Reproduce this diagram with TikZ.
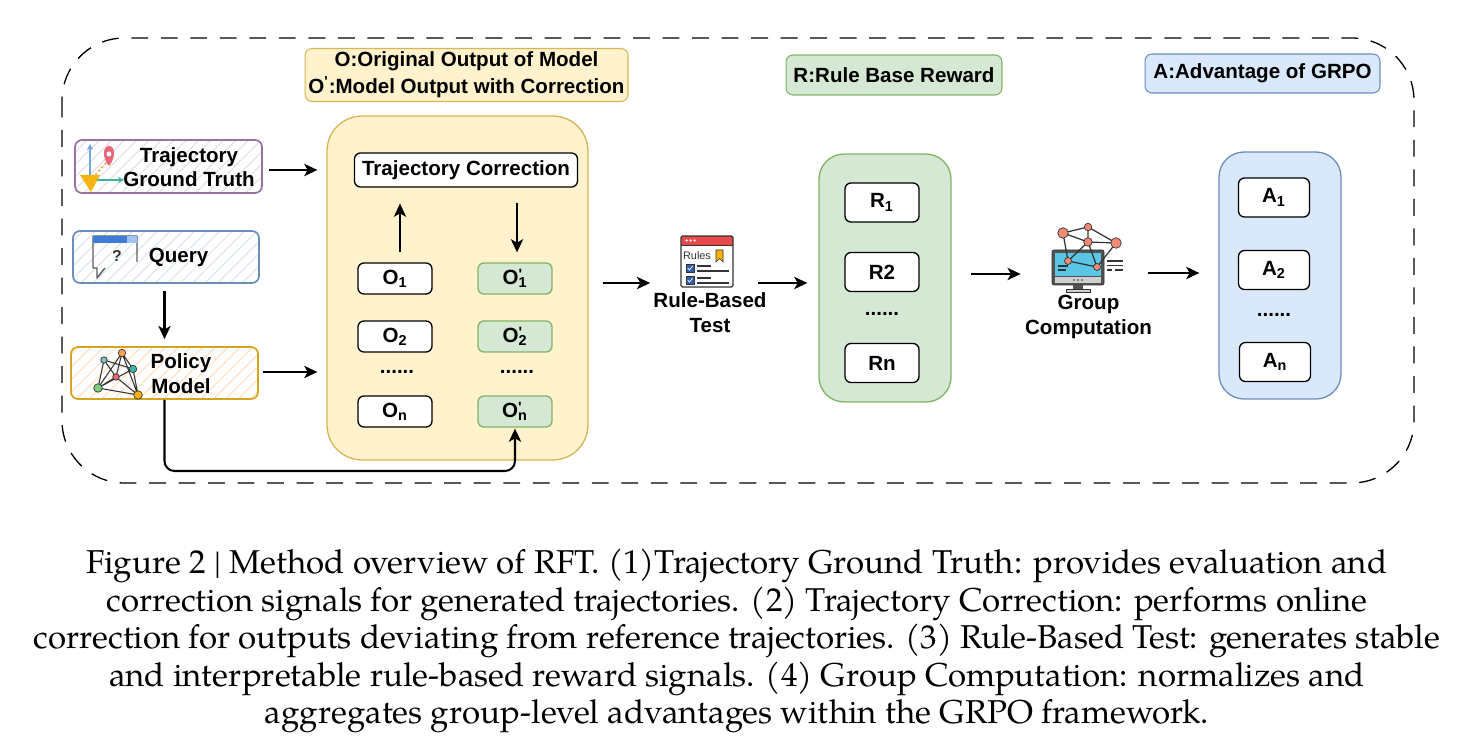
\documentclass[tikz,border=0pt]{standalone}
\usepackage{fontspec}
\newfontfamily\dgf{Liberation Sans}
\newfontfamily\capf{TeX Gyre Pagella}
\usetikzlibrary{arrows.meta,patterns.meta}
\definecolor{yfill}{HTML}{FFF2CC}
\definecolor{ydraw}{HTML}{D6B656}
\definecolor{gfill}{HTML}{D5E8D4}
\definecolor{gdraw}{HTML}{82B366}
\definecolor{bfill}{HTML}{DAE8FC}
\definecolor{bdraw}{HTML}{6C8EBF}
\definecolor{pdraw}{HTML}{9673A6}
\definecolor{qdraw}{HTML}{6C8EBF}
\definecolor{poldraw}{HTML}{D6A520}
\definecolor{icdark}{HTML}{333333}
\definecolor{trblue}{HTML}{6FA8DC}
\definecolor{trteal}{HTML}{3DB5A5}
\definecolor{tryel}{HTML}{F6B40E}
\definecolor{pinred}{HTML}{E8677A}
\definecolor{tror}{HTML}{F0B060}
\definecolor{qblue}{HTML}{3D7DD8}
\definecolor{qlight}{HTML}{9FC5F8}
\definecolor{rulered}{HTML}{E84A4A}
\definecolor{rulegold}{HTML}{F4B400}
\definecolor{chkblue}{HTML}{2F5DAF}
\definecolor{scrblue}{HTML}{5BC5E5}
\definecolor{netred}{HTML}{F28B74}
\definecolor{bezel}{HTML}{CFCFCF}
\newcommand\primed[2]{#1\rlap{\raisebox{2.4pt}{\fontsize{8.5}{8.5}\selectfont\textquotesingle}}\textsubscript{#2}}
\tikzset{
  lbl/.style={font=\dgf\bfseries\fontsize{11.7}{14.4}\selectfont, align=center, inner sep=0pt},
  wbox/.style={lbl, draw=black, fill=white, rounded corners=0.12cm, line width=0.75pt,
    minimum width=1.48cm, minimum height=0.62cm},
  gbox/.style={wbox, draw=gdraw, fill=gfill},
  rbox/.style={wbox, minimum width=1.48cm, minimum height=0.78cm},
  legend/.style={lbl, rounded corners=0.14cm, line width=0.6pt},
  inbox/.style={rounded corners=0.14cm, line width=1pt, inner sep=0pt},
  container/.style={rounded corners=0.7cm, line width=0.75pt, inner sep=0pt},
  arr/.style={line width=1.15pt, -{Stealth[length=7.5pt,width=7pt,inset=2pt]}},
  outer/.style={line width=0.75pt, dash pattern=on 9.6pt off 7.2pt, rounded corners=1.25cm},
  hatch/.style={pattern={Lines[angle=45,distance=5pt,line width=0.6pt]}, pattern color=#1},
  netnode/.style={circle, draw=icdark, line width=0.4pt, inner sep=0pt, minimum size=#1},
}
\begin{document}
\begin{tikzpicture}[x=0.02cm,y=-0.02cm]
\useasboundingbox (0,0) rectangle (1475,749);

% outer dashed frame
\draw[outer] (62,38) rectangle (1414,483);

% legends
\node[legend, draw=ydraw, fill=yfill, minimum width=6.46cm, minimum height=1.06cm,
  font=\dgf\bfseries\fontsize{11.7}{15.3}\selectfont] (legO) at (466.5,75)
  {O:Original Output of Model\\O\textsuperscript{\textquotesingle}:Model Output with Correction};
\node[legend, draw=gdraw, fill=gfill, minimum width=4.32cm, minimum height=0.8cm] (legR) at (894,75) {R:Rule Base Reward};
\node[legend, draw=bdraw, fill=bfill, minimum width=4.7cm, minimum height=0.78cm] (legA) at (1262.5,73.5) {A:Advantage of GRPO};

% left column boxes
\node[inbox, draw=pdraw, hatch=pdraw!25, minimum width=3.74cm, minimum height=1.06cm] (tgt) at (168.5,166.5) {};
\node[inbox, draw=qdraw, hatch=qdraw!25, minimum width=3.72cm, minimum height=1.04cm] (qry) at (166,257) {};
\node[inbox, draw=poldraw, hatch=orange!25, minimum width=3.74cm, minimum height=1.04cm] (pol) at (164.5,373) {};
\node[lbl, font=\dgf\bfseries\fontsize{11.7}{13.8}\selectfont] (tgtt) at (189,167) {Trajectory\\Ground Truth};
\node[lbl] (qryt) at (178.5,257) {Query};
\node[lbl] (polt) at (181,374) {Policy\\Model};

% trajectory icon
\draw[trblue, line width=0.9pt, -{Stealth[length=3.5pt,width=3.5pt]}] (90,190) -- (90,144);
\draw[trteal, line width=0.9pt, -{Stealth[length=3.5pt,width=3.5pt]}] (86,180) -- (124,180);
\draw[tror, line width=0.9pt, dash pattern=on 1.5pt off 1.2pt] (95,175) -- (107,162);
\fill[tryel] (80,175) -- (100,175) -- (91,192) -- cycle;
\fill[pinred] (109,166) .. controls (102,158) and (102.5,146) .. (109,146) .. controls (115.5,146) and (116,158) .. (109,166) -- cycle;
\fill[white] (109,154) circle (0.05cm);

% query icon
\draw[icdark!80, line width=0.8pt, line join=round] (105,268) -- (97,278) -- (97,268) -- (93,268) -- (93,236) -- (137,236) -- (137,262);
\fill[qblue] (93,236) rectangle (127,243);
\fill[qlight] (127,236) rectangle (137,243);
\node[font=\dgf\bfseries\fontsize{9}{9}\selectfont, inner sep=0, text=icdark] at (117,256) {?};

% policy icon
\coordinate (p1) at (122,353);
\coordinate (p2) at (104,360);
\coordinate (p3) at (133,369);
\coordinate (p4) at (116,377);
\coordinate (p5) at (98,388);
\coordinate (p6) at (138,395);
\draw[icdark, line width=0.6pt] (p1)--(p4) (p1)--(p5) (p1)--(p3) (p2)--(p3) (p2)--(p4) (p2)--(p5) (p3)--(p6) (p4)--(p6) (p5)--(p6) (p5)--(p3) (p1)--(p6) (p4)--(p5);
\node[netnode=0.15cm, fill=orange!70] at (p1) {};
\node[netnode=0.13cm, fill=teal!50] at (p2) {};
\node[netnode=0.15cm, fill=trteal] at (p3) {};
\node[netnode=0.13cm, fill=pinred] at (p4) {};
\node[netnode=0.17cm, fill=green!45!gray!70] at (p5) {};
\node[netnode=0.17cm, fill=tryel] at (p6) {};

% main yellow container
\node[container, draw=ydraw, fill=yfill, minimum width=5.22cm, minimum height=6.88cm] (main) at (457.5,288) {};
\node[wbox, minimum width=4.46cm, minimum height=0.68cm] (tc) at (466,170) {Trajectory Correction};
\node[wbox] (o1) at (395,278.5) {O\textsubscript{1}};
\node[wbox] (o2) at (395,336.5) {O\textsubscript{2}};
\node[wbox] (on) at (395,411.5) {O\textsubscript{n}};
\node[gbox] (op1) at (515,278.5) {\primed{O}{1}};
\node[gbox] (op2) at (515,336.5) {\primed{O}{2}};
\node[gbox] (opn) at (515,411.5) {\primed{O}{n}};
\node[lbl] (dotsO) at (397,372) {......};
\node[lbl] (dotsOp) at (517,372) {......};

% rule-based test icon
\node[minimum width=1.06cm, minimum height=1.02cm, inner sep=0] (ruleic) at (707,261.5) {};
\fill[white] (681,236) rectangle (733,287);
\fill[rulered] (681,236) rectangle (733,245);
\draw[icdark, line width=0.7pt, rounded corners=0.03cm] (681,236) rectangle (733,287);
\draw[icdark, line width=0.5pt] (681,245) -- (733,245);
\foreach \xx in {686.5,690.5,694.5} \fill[white] (\xx,240.5) circle (0.025cm);
\node[font=\dgf\fontsize{6.2}{6.2}\selectfont, inner sep=0, text=icdark] at (697,256) {Rules};
\filldraw[fill=rulegold, draw=icdark, line width=0.3pt] (716,250) -- (723,250) -- (723,262) -- (719.5,258.5) -- (716,262) -- cycle;
\filldraw[fill=chkblue, draw=icdark, line width=0.4pt] (686,264) rectangle (694,272);
\filldraw[fill=chkblue, draw=icdark, line width=0.4pt] (686,276) rectangle (694,284);
\draw[white, line width=0.4pt] (687.5,268) -- (689.5,270) -- (692.5,266) (687.5,280) -- (689.5,282) -- (692.5,278);
\draw[icdark, line width=0.7pt] (697,266) -- (711,266) (697,271) -- (729,271) (697,278) -- (711,278) (697,283) -- (729,283);
\node[lbl, font=\dgf\bfseries\fontsize{11.7}{14.6}\selectfont] (rulet) at (710,312.5) {Rule-Based\\Test};

% green reward container
\node[container, draw=gdraw, fill=gfill, minimum width=2.64cm, minimum height=4.96cm, rounded corners=0.5cm] (green) at (885,278) {};
\node[rbox] (r1) at (882,202.5) {R\textsubscript{1}};
\node[rbox] (r2) at (882,272) {R2};
\node[lbl] (dotsR) at (882,314) {......};
\node[rbox] (rn) at (882,363) {Rn};

% group computation icon
\node[minimum width=1.44cm, minimum height=1.34cm, inner sep=0] (groupic) at (1087,258.5) {};
\filldraw[fill=icdark!85, draw=icdark, rounded corners=0.04cm] (1052,250) rectangle (1104,285);
\fill[scrblue] (1055,253) rectangle (1101,276);
\fill[bezel] (1055,277) rectangle (1101,283);
\foreach \xx in {1074,1078,1082} \fill[icdark] (\xx,280) circle (0.018cm);
\fill[icdark!85] (1073,285) rectangle (1083,289);
\filldraw[fill=bezel, draw=icdark, line width=0.4pt] (1066,289) rectangle (1090,292.5);
\draw[icdark, line width=0.8pt] (1058,266) -- (1068,266) (1058,270) -- (1066,270);
\draw[icdark, line width=0.8pt] (1107,261) -- (1123,261) (1107,265.5) -- (1123,265.5) (1107,270) -- (1112,270) (1115,270) -- (1123,270);
\coordinate (g1) at (1063,233);
\coordinate (g2) at (1088,227);
\coordinate (g3) at (1088,242);
\coordinate (g4) at (1116,243);
\coordinate (g5) at (1068,261);
\coordinate (g6) at (1097,267);
\draw[icdark, line width=0.7pt] (g1)--(g2) (g2)--(g4) (g1)--(g3) (g3)--(g4) (g2)--(g3) (g1)--(g5) (g5)--(g6) (g3)--(g6) (g4)--(g6) (g3)--(g5);
\node[netnode=0.21cm, fill=netred] at (g1) {};
\node[netnode=0.15cm, fill=netred] at (g2) {};
\node[netnode=0.17cm, fill=netred] at (g3) {};
\node[netnode=0.21cm, fill=netred] at (g4) {};
\node[netnode=0.14cm, fill=netred] at (g5) {};
\node[netnode=0.14cm, fill=netred] at (g6) {};
\node[lbl, font=\dgf\bfseries\fontsize{11.7}{14.6}\selectfont] (groupt) at (1088.5,317) {Group\\Computation};

% blue advantage container
\node[container, draw=bdraw, fill=bfill, minimum width=2.44cm, minimum height=4.94cm, rounded corners=0.5cm] (blue) at (1280,275.5) {};
\node[rbox, minimum width=1.42cm] (a1) at (1274,197.5) {A\textsubscript{1}};
\node[rbox, minimum width=1.42cm] (a2) at (1274,270) {A\textsubscript{2}};
\node[lbl] (dotsA) at (1274,315) {......};
\node[rbox, minimum width=1.42cm] (an) at (1275,362) {A\textsubscript{n}};

% connectors
\draw[arr, shorten <=0.12cm, shorten >=0.18cm] (tgt.east |- 0,170) -- (main.west |- 0,170);
\draw[arr, shorten <=0.08cm, shorten >=0.18cm] (pol.east |- 0,372) -- (main.west |- 0,372);
\draw[arr, shorten <=0.14cm, shorten >=0.14cm] (pol.north |- qry.south) -- (pol.north);
\draw[arr, shorten <=0.2cm, shorten >=0.32cm] (o1.north -| 400,0) -- (tc.south -| 400,0);
\draw[arr, shorten <=0.3cm, shorten >=0.2cm] (tc.south -| 517,0) -- (op1.north -| 517,0);
\draw[arr, rounded corners=0.2cm, shorten >=0.02cm] (pol.south) -- (pol.south |- 0,471) -| (opn.south);
\draw[arr, shorten <=0.28cm, shorten >=0.06cm] (main.east |- 0,283) -- (rulet.west |- 0,283);
\draw[arr, shorten <=0.48cm, shorten >=0.22cm] (ruleic.east |- 0,283) -- (green.west |- 0,283);
\draw[arr, shorten <=0.38cm, shorten >=0.6cm] (green.east |- 0,274) -- (groupic.west |- 0,274);
\draw[arr, shorten <=0.5cm, shorten >=0.38cm] (groupic.east |- 0,273) -- (blue.west |- 0,273);

% caption
\node[align=center, inner sep=0pt, font=\capf\fontsize{18.8}{21.4}\selectfont] (cap) at (737,641)
{Figure 2 | Method overview of RFT. (1)Trajectory Ground Truth: provides evaluation and\\
correction signals for generated trajectories. (2) Trajectory Correction: performs online\\
correction for outputs deviating from reference trajectories. (3) Rule-Based Test: generates stable\\
and interpretable rule-based reward signals. (4) Group Computation: normalizes and\\
aggregates group-level advantages within the GRPO framework.};
\end{tikzpicture}
\end{document}
